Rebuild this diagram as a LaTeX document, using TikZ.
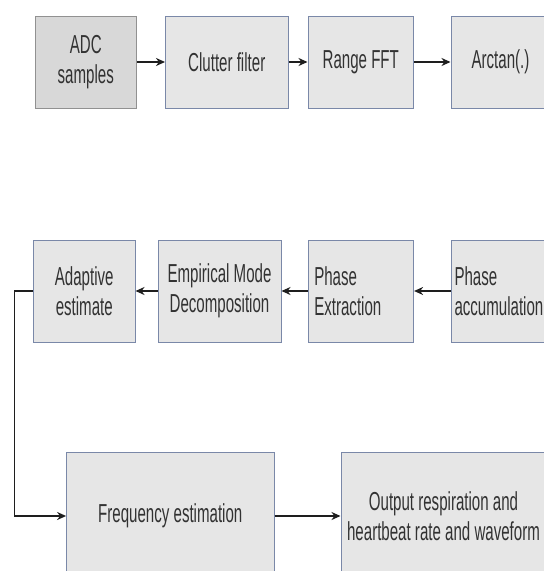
\documentclass[tikz,border=0pt]{standalone}
\usepackage{fontspec}
\setmainfont{Liberation Sans}[FakeStretch=0.58]
\usetikzlibrary{arrows.meta}
\definecolor{boxfill}{RGB}{230,230,230}
\definecolor{boxdraw}{RGB}{122,136,168}
\definecolor{adcfill}{RGB}{216,216,216}
\definecolor{adcdraw}{RGB}{145,145,145}
\definecolor{txt}{RGB}{50,50,50}
\definecolor{arrc}{RGB}{30,30,30}
\begin{document}
\begin{tikzpicture}[x=1pt,y=-1pt,
  blk/.style={draw=boxdraw, fill=boxfill, line width=1pt, inner sep=0pt,
    text=txt, font=\fontsize{26}{30}\selectfont, align=center},
  adc/.style={blk, draw=adcdraw, fill=adcfill},
  arr/.style={-{Stealth[length=9pt,width=8pt]}, line width=1.7pt, draw=arrc}]
\useasboundingbox (0,0) rectangle (544,571);
\fill[white] (0,0) rectangle (544,571);
\begin{scope}
\clip (0,0) rectangle (544,571);
% row 1
\node[adc, minimum width=101.5pt, minimum height=92pt] (adcs) at (85.75,62) {ADC\\samples};
\node[blk, minimum width=122.5pt, minimum height=92pt] (clut) at (226.75,62) {Clutter filter};
\node[blk, minimum width=105.6pt, minimum height=92pt] (rfft) at (360.8,62) {Range FFT};
\node[blk, minimum width=99pt, minimum height=92pt] (atan) at (500.5,62) {Arctan(.)};
% row 2
\node[blk, minimum width=101.5pt, minimum height=102pt] (adap) at (84.25,291) {Adaptive\\estimate};
\node[blk, minimum width=123pt, minimum height=102pt] (emd) at (219.5,291) {Empirical Mode\\Decomposition};
\node[blk, minimum width=105.6pt, minimum height=102pt, text width=93pt, align=left] (pext) at (360.8,291) {Phase\\Extraction};
\node[blk, minimum width=104pt, minimum height=102pt, text width=97pt, align=left] (pacc) at (503,291) {Phase\\accumulation};
% row 3
\node[blk, minimum width=207.4pt, minimum height=128pt] (freq) at (170.3,516) {Frequency estimation};
\node[blk, minimum width=205pt, minimum height=128pt] (outp) at (443.5,516) {Output respiration and\\heartbeat rate and waveform};
\end{scope}
% connectors
\draw[arr] (adcs) -- (clut);
\draw[arr] (clut) -- (rfft);
\draw[arr] (rfft) -- (atan);
\draw[arr] (pacc) -- (pext);
\draw[arr] (pext) -- (emd);
\draw[arr] (emd) -- (adap);
\coordinate (bend) at (14.5,291);
\draw[arr] (adap.west) -- (bend) |- (freq.west);
\draw[arr] (freq) -- (outp);
\end{tikzpicture}
\end{document}
